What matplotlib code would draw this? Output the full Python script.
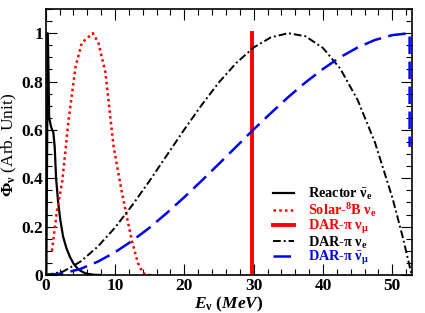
import matplotlib
matplotlib.use("Agg")
import matplotlib.pyplot as plt
from matplotlib.ticker import MultipleLocator

plt.rcParams["font.family"] = ["Liberation Serif", "DejaVu Serif"]
plt.rcParams["font.weight"] = "bold"
plt.rcParams["mathtext.fontset"] = "custom"
plt.rcParams["mathtext.rm"] = "Liberation Serif:bold"
plt.rcParams["mathtext.it"] = "Liberation Serif:italic:bold"
plt.rcParams["mathtext.bf"] = "Liberation Serif:bold"

# Reactor anti-nu_e
reactor_e = [0.1, 0.3, 0.4, 0.5, 0.8, 1.1, 1.3, 1.5, 1.8, 2.1, 2.5, 3.0,
             3.5, 4.0, 4.5, 5.0, 5.5, 6.0, 7.0, 8.0]
reactor_f = [0.0, 1.0, 0.85, 0.65, 0.61, 0.59, 0.53, 0.40, 0.30, 0.23,
             0.16, 0.11, 0.075, 0.048, 0.03, 0.018, 0.01, 0.005, 0.001, 0.0]

# Solar 8B nu_e
solar_e = [0.9, 1.6, 2.1, 2.4, 3.3, 4.3, 5.2, 6.0, 6.8, 7.6, 8.6, 9.8, 11.0,
           12.4, 13.3, 14.0, 14.5, 15.5]
solar_f = [0.10, 0.26, 0.34, 0.39, 0.64, 0.86, 0.96, 0.98, 1.0, 0.96, 0.84,
           0.53, 0.34, 0.145, 0.05, 0.01, 0.0, 0.0]

# DAR-pi nu_mu (monoenergetic line)
numu_e = 29.8

# DAR-pi nu_e
nue_e = [0, 2.5, 5, 7.5, 10, 12.5, 15, 17.5, 20, 22.5, 25, 27.5, 30, 32.5, 35,
         37.5, 40, 42.5, 45, 47.5, 50, 51.5, 52.8]
nue_f = [0, 0.014, 0.055, 0.117, 0.196, 0.289, 0.39, 0.496, 0.602, 0.703,
         0.797, 0.877, 0.941, 0.983, 1.0, 0.987, 0.939, 0.853, 0.724, 0.548,
         0.321, 0.158, 0.0]

# DAR-pi anti-nu_mu
numubar_e = [0, 2.5, 5, 7.5, 10, 12.5, 15, 17.5, 20, 22.5, 25, 27.5, 30, 32.5,
             35, 37.5, 40, 42.5, 45, 47.5, 50, 52.5, 52.5]
numubar_f = [0, 0.0065, 0.025, 0.055, 0.094, 0.142, 0.196, 0.257, 0.322, 0.39,
             0.46, 0.531, 0.602, 0.67, 0.736, 0.797, 0.852, 0.901, 0.941,
             0.972, 0.992, 1.0, 0.53]

fig = plt.figure(figsize=(4.25, 3.13), dpi=100)
ax = fig.add_axes([0.1075, 0.1214, 0.8612, 0.8498])

ax.plot(reactor_e, reactor_f, color="black", lw=1.6,
        label=r"Reactor $\mathrm{\bar{\nu}_e}$")
ax.plot(solar_e, solar_f, color="red", lw=1.8, ls=(0, (1, 1.3)),
        label=r"Solar-$\mathrm{^8}$B $\mathrm{\nu_e}$")
ax.plot([numu_e, numu_e], [0, 1], color="red", lw=2.8,
        label=r"DAR-$\mathrm{\pi}$ $\mathrm{\nu_\mu}$")
ax.plot(nue_e, nue_f, color="black", lw=1.4, ls=(0, (4, 1.5, 1, 1.5)),
        label=r"DAR-$\mathrm{\pi}$ $\mathrm{\nu_e}$")
ax.plot(numubar_e, numubar_f, color="blue", lw=1.8, ls=(0, (7, 3)),
        label=r"DAR-$\mathrm{\pi}$ $\mathrm{\bar{\nu}_\mu}$")

ax.set_xlim(0, 52.8)
ax.set_ylim(0, 1.1)
ax.xaxis.set_major_locator(MultipleLocator(10))
ax.xaxis.set_minor_locator(MultipleLocator(2))
ax.yaxis.set_major_locator(MultipleLocator(0.2))
ax.yaxis.set_minor_locator(MultipleLocator(0.05))
ax.set_yticks([0, 0.2, 0.4, 0.6, 0.8, 1.0])
ax.set_yticklabels(["0", "0.2", "0.4", "0.6", "0.8", "1"])
ax.tick_params(which="both", direction="in", top=True, right=True,
               labelsize=12.5, width=0.8)
ax.tick_params(which="major", length=8, pad=2)
ax.tick_params(which="minor", length=4)
for s in ax.spines.values():
    s.set_linewidth(1.2)

ax.set_xlabel(r"$E_\mathrm{\nu}$ $(MeV)$", fontsize=12.5)
ax.xaxis.set_label_coords(0.5, -0.074)
ax.set_ylabel(r"$\mathrm{\Phi_\nu}$ (Arb. Unit)", fontsize=12.5)
ax.yaxis.set_label_coords(-0.074, 0.49)

leg = ax.legend(loc="lower left", bbox_to_anchor=(0.585, -0.02),
                frameon=False, fontsize=10.3, handlelength=1.5,
                labelspacing=-0.08, handletextpad=1.0,
                labelcolor=["black", "red", "red", "black", "blue"])

fig.savefig("out.png", dpi=100)
